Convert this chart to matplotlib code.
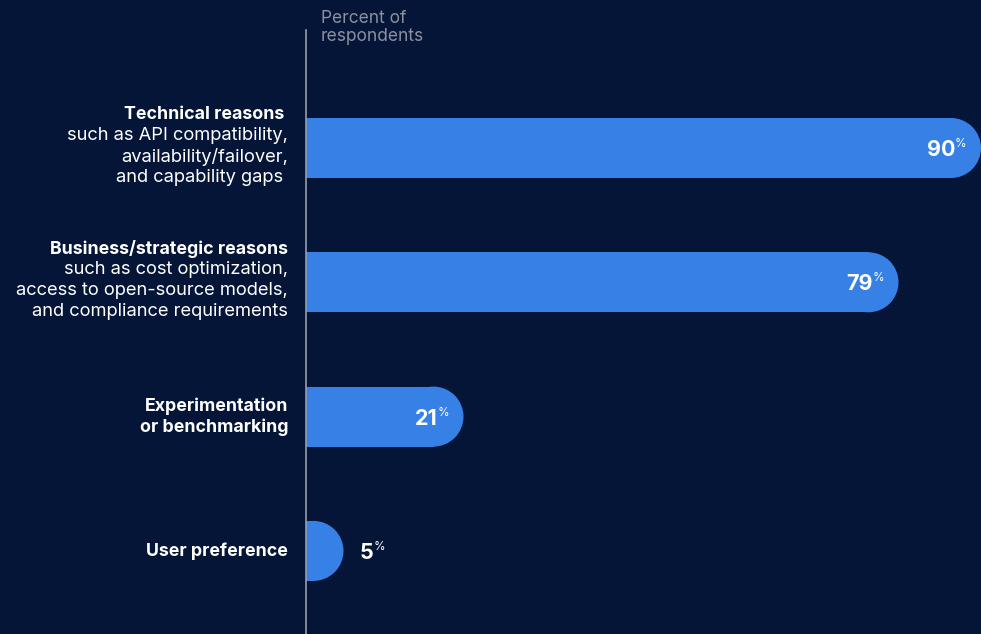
import numpy as np
import matplotlib
matplotlib.use("Agg")
import matplotlib.pyplot as plt
from matplotlib.patches import Ellipse

# data
titles = ["Technical reasons ", "Business/strategic reasons",
          "Experimentation\nor benchmarking", "User preference"]
details = ["such as API compatibility,\navailability/failover,\nand capability gaps ",
           "such as cost optimization,\naccess to open-source models,\nand compliance requirements",
           "", ""]
values = [90, 79, 21, 5]
header = "Percent of\nrespondents"

BG = "#041537"
BAR = "#3680e6"
FONT = "Inter"

W, H = 981, 634
fig = plt.figure(figsize=(W / 100, H / 100), dpi=100, facecolor=BG)
# axes: from the vertical rule (x=306px) to the right edge, below y=30px
ax = fig.add_axes([306 / W, 0, 675 / W, 604 / H])
ax.set_facecolor(BG)
ax.set_xlim(0, 90)
step = 134.3                     # px between bar centres
top_off = (148 - 30) / step      # first centre below axes top
ax.set_ylim((604 - 118) / step, -top_off)

bar_px = 60
bar_h = bar_px / step
px_per_unit = 675 / 90
r = (bar_px / 2) / px_per_unit

ypos = np.arange(len(values))
for y, v in zip(ypos, values):
    ax.barh(y, v - r, height=bar_h, left=0, color=BAR, linewidth=0)
    ax.add_patch(Ellipse((v - r, y), 2 * r, bar_h, color=BAR, linewidth=0))

    # value label: inside the bar for long bars, outside for short ones
    if v > 10:
        ha, off = "right", -26
    else:
        ha, off = "left", 16
    ax.annotate(f"{v}", xy=(v, y), xytext=(off, -2), textcoords="offset pixels",
                ha=ha, va="center", color="white", fontsize=15.5,
                fontweight="bold", family=FONT)
    pct_off = off if ha == "right" else off + 14
    ax.annotate("%", xy=(v, y), xytext=(pct_off, 4), textcoords="offset pixels",
                ha="left", va="center", color="white", fontsize=8.5, family=FONT)

# category labels, right-aligned left of the rule
line_px = 21
ytrans = ax.get_yaxis_transform()
for y, ttl, det in zip(ypos, titles, details):
    lines = [(l, "bold") for l in ttl.split("\n")]
    if det:
        lines += [(l, "normal") for l in det.split("\n")]
    n = len(lines)
    shift = 2 if n > 2 else 0
    for k, (txt, wt) in enumerate(lines):
        dy = ((n - 1) / 2 - k) * line_px + shift
        ax.annotate(txt, xy=(0, y), xycoords=ytrans, xytext=(-18, dy),
                    textcoords="offset pixels", ha="right", va="center",
                    color="white", fontsize=12.8 if wt == "bold" else 13.2,
                    fontweight=wt, family=FONT, annotation_clip=False)

for s in ax.spines.values():
    s.set_visible(False)
ax.set_xticks([])
ax.set_yticks([])
ax.axvline(0, color="#9a9ca6", linewidth=1.2, clip_on=False)

fig.text(321 / W, 1 - 10 / H, header, ha="left", va="top", color="#8c90a0",
         fontsize=12.5, family=FONT, linespacing=1.1)

fig.savefig("out.png", dpi=100, facecolor=BG)
